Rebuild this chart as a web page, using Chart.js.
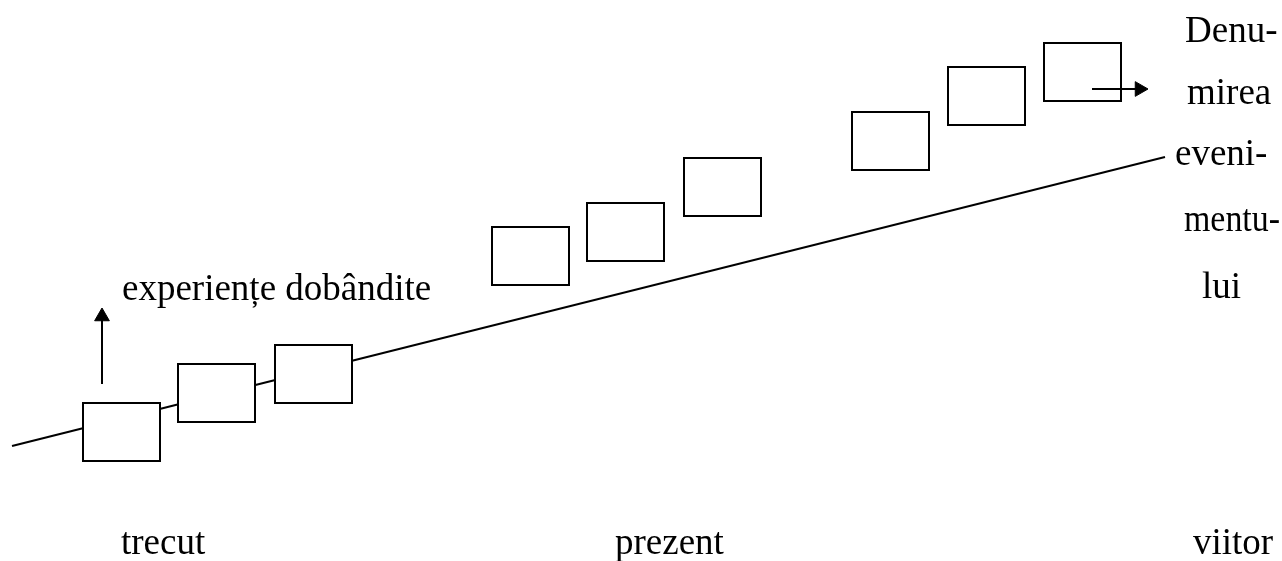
<!DOCTYPE html>
<html lang="ro">
<head>
  <meta charset="UTF-8">
  <title>Experiențe dobândite</title>
  <script src="https://cdn.jsdelivr.net/npm/chart.js"></script>
  <style>
    html, body { margin: 0; padding: 0; background: #fff; }
    #wrap { width: 1282px; height: 561px; position: relative; }
  </style>
</head>
<body>
<div id="wrap"><canvas id="schema"></canvas></div>
<script>
// coordonate in spatiul schemei (0..1282 x 0..561, y in jos)
const boxLeft = [83, 178, 275, 492, 587, 684, 852, 948, 1044];
const boxTop  = [403, 364, 345, 227, 203, 158, 112, 67, 43];
const axisX = [12, 1165];
const axisY = [446, 157];
const upArrowX = [102, 102];
const upArrowY = [384, 316.5];
const rightArrowX = [1092, 1139.5];
const rightArrowY = [89, 89];

const expLabel = 'experiențe dobândite';
const expPos = [122, 300];
const timeLabels = ['trecut', 'prezent', 'viitor'];
const timeX = [121, 615, 1193];
const timeY = 554;
const eventWords = ['Denu-', 'mirea', 'eveni-', 'mentu-', 'lui'];
const eventX = [1185, 1187, 1175, 1184, 1202];
const eventY = [42, 104, 165, 231, 298];

const BOX_W = 77, BOX_H = 58;
const FONT = '37px "Liberation Serif", "Times New Roman", serif';
const RIGHT_EDGE = 1280;

const pts = (xs, ys) => xs.map((x, i) => ({ x: x, y: ys[i] }));

const datasets = [];
datasets.push({
  data: pts(axisX, axisY),
  borderColor: '#000', borderWidth: 2, pointRadius: 0, showLine: true, order: 3
});
boxLeft.forEach((l, i) => {
  const t = boxTop[i];
  datasets.push({
    data: [{x: l, y: t}, {x: l + BOX_W, y: t}, {x: l + BOX_W, y: t + BOX_H}, {x: l, y: t + BOX_H}, {x: l, y: t}],
    borderColor: '#000', borderWidth: 2, backgroundColor: '#fff', fill: 'shape',
    pointRadius: 0, showLine: true, tension: 0,
    borderJoinStyle: 'miter', borderCapStyle: 'square', order: 2
  });
});
datasets.push({
  data: pts(upArrowX, upArrowY),
  borderColor: '#000', borderWidth: 2, showLine: true, order: 1,
  pointRadius: [0, 8.5], pointStyle: 'triangle', pointRotation: 0,
  pointBackgroundColor: '#000', pointBorderColor: '#000', pointBorderWidth: 1
});
datasets.push({
  data: pts(rightArrowX, rightArrowY),
  borderColor: '#000', borderWidth: 2, showLine: true, order: 1,
  pointRadius: [0, 8.5], pointStyle: 'triangle', pointRotation: 90,
  pointBackgroundColor: '#000', pointBorderColor: '#000', pointBorderWidth: 1
});

const textPlugin = {
  id: 'texte',
  afterDatasetsDraw(chart) {
    const c = chart.ctx, sx = chart.scales.x, sy = chart.scales.y;
    c.save();
    c.fillStyle = '#000';
    c.font = FONT;
    c.textAlign = 'left';
    c.textBaseline = 'alphabetic';
    c.fillText(expLabel, sx.getPixelForValue(expPos[0]), sy.getPixelForValue(expPos[1]));
    timeLabels.forEach((t, i) => c.fillText(t, sx.getPixelForValue(timeX[i]), sy.getPixelForValue(timeY)));
    // cuvintele din dreapta nu trebuie sa iasa din pagina
    eventWords.forEach((t, i) => {
      const x = sx.getPixelForValue(eventX[i]);
      c.fillText(t, x, sy.getPixelForValue(eventY[i]), sx.getPixelForValue(RIGHT_EDGE) - x);
    });
    c.restore();
  }
};

new Chart(document.getElementById('schema'), {
  type: 'scatter',
  data: { datasets: datasets },
  options: {
    responsive: true,
    maintainAspectRatio: false,
    animation: false,
    layout: { padding: 0, autoPadding: false },
    plugins: { legend: { display: false }, tooltip: { enabled: false } },
    scales: {
      x: { type: 'linear', min: 0, max: 1282, display: false },
      y: { type: 'linear', min: 0, max: 561, reverse: true, display: false }
    }
  },
  plugins: [textPlugin]
});
</script>
</body>
</html>
